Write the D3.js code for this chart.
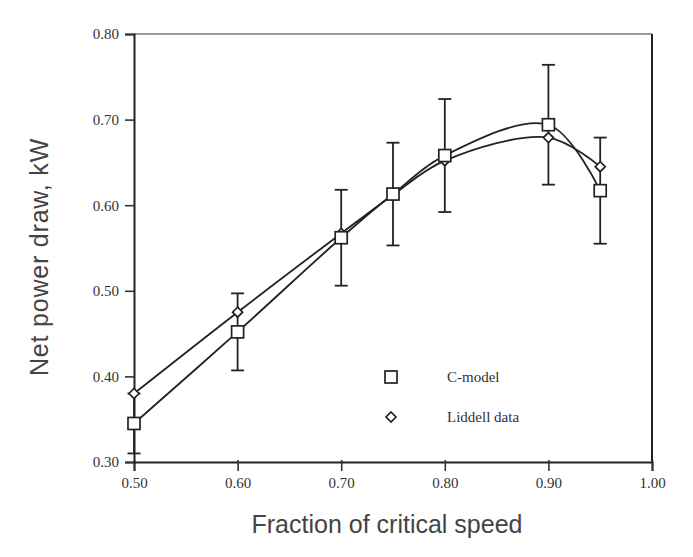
<!DOCTYPE html>
<html>
<head>
<meta charset="utf-8">
<script src="https://cdn.jsdelivr.net/npm/d3@7"></script>
<style>
  body { margin: 0; background: #fff; }
  svg { display: block; }
</style>
</head>
<body>
<div id="chart"></div>
<script>
// values
const speeds = [0.50, 0.60, 0.70, 0.75, 0.80, 0.90, 0.95];
const cModel = [0.345, 0.452, 0.562, 0.613, 0.658, 0.694, 0.617];
const cModelErr = [0.035, 0.045, 0.056, 0.060, 0.066, 0.070, 0.062];
const liddell = [0.380, 0.475, 0.567, 0.612, 0.652, 0.679, 0.645];
const xTicks = [0.50, 0.60, 0.70, 0.80, 0.90, 1.00];
const yTicks = [0.30, 0.40, 0.50, 0.60, 0.70, 0.80];
const legendItems = ['C-model', 'Liddell data'];

const width = 693, height = 557;
const margin = { top: 34, right: 41, bottom: 95, left: 134 };

const svg = d3.select('#chart')
    .append('svg')
    .attr('width', width)
    .attr('height', height);

const x = d3.scaleLinear().domain([0.5, 1.0]).range([margin.left, width - margin.right]);
const y = d3.scaleLinear().domain([0.3, 0.8]).range([height - margin.bottom, margin.top]);

const serif = '"Liberation Serif", "DejaVu Serif", serif';
const sans = '"Liberation Sans", Arial, sans-serif';

// frame: grey top, dark right
svg.append('line')
    .attr('x1', x(0.5)).attr('x2', x(1.0))
    .attr('y1', y(0.8)).attr('y2', y(0.8))
    .attr('stroke', '#777').attr('stroke-width', 1.5);
svg.append('line')
    .attr('x1', x(1.0)).attr('x2', x(1.0))
    .attr('y1', y(0.8)).attr('y2', y(0.3))
    .attr('stroke', '#222').attr('stroke-width', 2);

// axes
const xAxis = svg.append('g')
    .attr('transform', `translate(0,${y(0.3)})`)
    .call(d3.axisBottom(x).tickValues(xTicks).tickFormat(d3.format('.2f')).tickSize(9).tickPadding(6));
const yAxis = svg.append('g')
    .attr('transform', `translate(${x(0.5)},0)`)
    .call(d3.axisLeft(y).tickValues(yTicks).tickFormat(d3.format('.2f')).tickSize(9).tickPadding(6));

[xAxis, yAxis].forEach(g => {
    g.select('.domain').attr('stroke', '#222').attr('stroke-width', 2);
    g.selectAll('.tick line').attr('stroke', '#333').attr('stroke-width', 1.6);
    g.selectAll('.tick text')
        .attr('fill', '#333')
        .style('font-family', serif)
        .style('font-size', '15px');
});
xAxis.selectAll('.tick line').attr('y1', -2);

// axis titles
svg.append('text')
    .attr('x', 387).attr('y', 533)
    .attr('text-anchor', 'middle')
    .attr('fill', '#444')
    .style('font-family', sans)
    .style('font-size', '25px')
    .text('Fraction of critical speed');
svg.append('text')
    .attr('transform', `translate(48,${257}) rotate(-90)`)
    .attr('text-anchor', 'middle')
    .attr('fill', '#444')
    .style('font-family', sans)
    .style('font-size', '25px')
    .style('letter-spacing', '0.8px')
    .text('Net power draw, kW');

// curves
const line = d3.line()
    .x(d => x(d[0]))
    .y(d => y(d[1]))
    .curve(d3.curveCatmullRom.alpha(0.5));

const cData = speeds.map((s, i) => [s, cModel[i]]);
const lData = speeds.map((s, i) => [s, liddell[i]]);

svg.append('path').datum(lData)
    .attr('d', line).attr('fill', 'none')
    .attr('stroke', '#222').attr('stroke-width', 1.8);
svg.append('path').datum(cData)
    .attr('d', line).attr('fill', 'none')
    .attr('stroke', '#222').attr('stroke-width', 1.8);

// error bars on C-model
const cap = 6.5;
const err = svg.append('g').attr('stroke', '#222').attr('stroke-width', 1.8);
speeds.forEach((s, i) => {
    const lo = y(cModel[i] - cModelErr[i]);
    const hi = y(cModel[i] + cModelErr[i]);
    err.append('line').attr('x1', x(s)).attr('x2', x(s)).attr('y1', lo).attr('y2', hi);
    err.append('line').attr('x1', x(s) - cap).attr('x2', x(s) + cap).attr('y1', lo).attr('y2', lo);
    err.append('line').attr('x1', x(s) - cap).attr('x2', x(s) + cap).attr('y1', hi).attr('y2', hi);
});

// markers
function square(g, cx, cy) {
    g.append('rect')
        .attr('x', cx - 6).attr('y', cy - 6)
        .attr('width', 12).attr('height', 12)
        .attr('fill', '#fff').attr('stroke', '#222').attr('stroke-width', 1.7);
}
function diamond(g, cx, cy) {
    g.append('path')
        .attr('d', `M${cx},${cy - 5}L${cx + 5},${cy}L${cx},${cy + 5}L${cx - 5},${cy}Z`)
        .attr('fill', '#fff').attr('stroke', '#222').attr('stroke-width', 1.7);
}

const marks = svg.append('g');
lData.forEach(d => diamond(marks, x(d[0]), y(d[1])));
cData.forEach(d => square(marks, x(d[0]), y(d[1])));

// legend
const legend = svg.append('g');
legendItems.forEach((name, i) => {
    const ly = 377 + i * 40;
    if (i === 0) square(legend, 391, ly);
    else diamond(legend, 391, ly);
    legend.append('text')
        .attr('x', 447).attr('y', ly + 5)
        .attr('fill', '#333')
        .style('font-family', serif)
        .style('font-size', '15px')
        .text(name);
});
</script>
</body>
</html>
